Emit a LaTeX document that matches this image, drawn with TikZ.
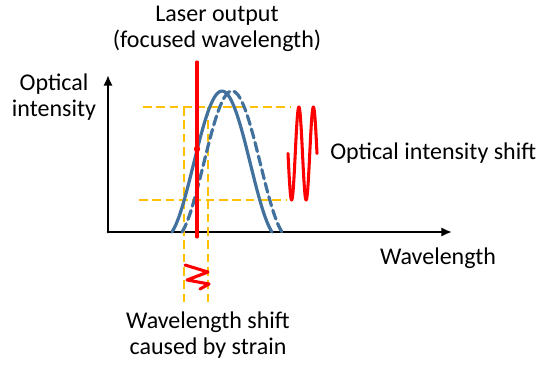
\documentclass[tikz,border=0pt]{standalone}
\usepackage{fontspec}
\setmainfont{Carlito}
\definecolor{specblue}{RGB}{65,113,156}
\definecolor{guidegold}{RGB}{255,192,0}
\definecolor{laserred}{RGB}{255,0,0}
\tikzset{
  guide/.style={guidegold,line width=2.2pt,dash pattern=on 6.5pt off 3.5pt,line cap=butt},
  spectrum/.style={specblue,line width=2.4pt},
  signal/.style={laserred,line width=2.3pt},
  axis/.style={line width=2.1pt,-{Latex[length=8pt,width=7pt]}},
  lbl/.style={align=center,inner sep=0pt}
}
\usetikzlibrary{arrows.meta}
\begin{document}
\begin{tikzpicture}[x=0.75pt,y=-0.75pt,line cap=round,line join=round,font=\fontsize{18}{19.5}\selectfont]
  \useasboundingbox (0,0) rectangle (550,368);
  \coordinate (O) at (108,232);
  \coordinate (Ytop) at (108,75);
  \coordinate (Xend) at (452,232);
  \draw[axis] (O) -- (Ytop);
  \draw[axis] (O) -- (Xend);
  \draw[guide] (143,107) -- (290,107);
  \draw[guide] (139,200) -- (287,200);
  \draw[guide] (184,107) -- (184,302);
  \draw[guide] (208,107) -- (208,302);
  \draw[spectrum] plot[domain=-50:50,samples=60] ({222+\x},{232-146.4*((1+cos(180*\x/57))/2-0.037)});
  \draw[spectrum,dash pattern=on 7pt off 3.5pt] plot[domain=-50:50,samples=60] ({232+\x},{232-146.4*((1+cos(180*\x/57))/2-0.037)});
  \draw[signal] (197,62) -- (197,237);
  \fill[laserred] (197,149) circle (3.2);
  \draw[signal] plot[domain=0:720,samples=80] ({288+\x/720*29},{153.5+46.5*sin(\x)});
  \draw[signal] (185,265) -- (208,272) -- (187,280) -- (209,284) -- (200,289);
  \node[lbl] (laser) at (217,29) {Laser output\\(focused wavelength)};
  \node[lbl] (yname) at (54,97) {Optical\\intensity};
  \node[lbl,anchor=west] (ishift) at (330,153) {Optical intensity shift};
  \node[lbl] (xname) at (438,258) {Wavelength};
  \node[lbl] (wshift) at (208,335) {Wavelength shift\\caused by strain};
\end{tikzpicture}
\end{document}
